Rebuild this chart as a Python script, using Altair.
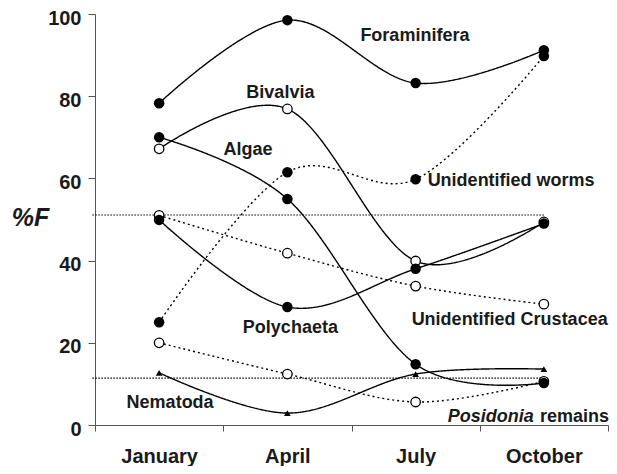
import altair as alt
import pandas as pd

months = ["January", "April", "July", "October"]

series_names = ["Foraminifera", "Unidentified worms", "Bivalvia", "Algae",
                "Polychaeta", "Unidentified Crustacea", "Posidonia remains", "Nematoda"]
foraminifera = [78.3, 98.5, 83.2, 91.2]
unidentified_worms = [25.0, 61.5, 59.8, 89.8]
bivalvia = [67.2, 76.9, 39.9, 49.4]
algae = [70.0, 55.0, 14.8, 10.2]
polychaeta = [49.9, 28.7, 38.0, 49.0]
unidentified_crustacea = [51.0, 41.8, 33.8, 29.4]
posidonia_remains = [20.0, 12.4, 5.6, 10.6]
nematoda = [12.7, 2.9, 12.4, 13.6]
series_values = [foraminifera, unidentified_worms, bivalvia, algae,
                 polychaeta, unidentified_crustacea, posidonia_remains, nematoda]
series_marker = ["filled", "filled", "open", "filled", "filled", "open", "open", "triangle"]
series_line = ["solid", "dotted", "solid", "solid", "solid", "dotted", "dotted", "solid"]

ref_values = [51.1, 11.4]
ref_months = ["October", "October"]

label_texts = ["Foraminifera", "Bivalvia", "Algae", "Unidentified worms", "Polychaeta",
               "Unidentified Crustacea", "Nematoda", "Posidonia", "remains"]
label_months = ["April", "April", "January", "July", "April", "July", "January", "October", "October"]
label_values = [94.6, 80.8, 66.9, 59.4, 23.6, 25.5, 5.4, 2.0, 2.0]
label_dx = [73, -7, 89, 12, 3, -4, 11, -10, -4]
label_align = ["left", "center", "center", "left", "center", "left", "center", "right", "left"]
label_style = ["normal", "normal", "normal", "normal", "normal", "normal", "normal", "italic", "normal"]

y_ticks = [0, 20, 40, 60, 80, 100]

rows = []
for name, vals, mk, ln in zip(series_names, series_values, series_marker, series_line):
    for m, v in zip(months, vals):
        rows.append({"series": name, "month": m, "value": v, "marker": mk, "line": ln})
df = pd.DataFrame(rows)
ref_df = pd.DataFrame({"month": ref_months, "value": ref_values})

FONT = "Liberation Sans"
INK = "#1a1a1a"

X = alt.X("month:N", sort=months,
          scale=alt.Scale(domain=months, paddingInner=0, paddingOuter=0),
          axis=alt.Axis(title=None, labelAngle=0, tickBand="extent", tickSize=6,
                        labelPadding=15, labelFontSize=20, labelFontWeight="bold",
                        labelFont=FONT, labelColor=INK, domainColor="#555",
                        tickColor="#555", grid=False))
Y = alt.Y("value:Q", scale=alt.Scale(domain=[0, 100], nice=False),
          axis=alt.Axis(values=y_ticks, title="%F", titleAngle=0, titleX=-65, titleY=203,
                        titleAlign="center", titleBaseline="middle", titleFontSize=25,
                        titleFontStyle="italic", titleFontWeight="bold", titleFont=FONT,
                        titleColor=INK, tickSize=7, labelPadding=7, labelOffset=4,
                        labelFontSize=20, labelFontWeight="bold", labelFont=FONT,
                        labelColor=INK, domainColor="#555", tickColor="#555", grid=False))

base = alt.Chart(df)

lines = base.mark_line(interpolate="cardinal", color="black", strokeWidth=1.4).encode(
    x=X, y=Y, detail="series:N",
    strokeDash=alt.StrokeDash("line:N", scale=alt.Scale(domain=["solid", "dotted"],
                                                        range=[[1, 0], [2, 3]]), legend=None))

refs = alt.Chart(ref_df).mark_rule(color="black", strokeWidth=1.2, strokeDash=[1.5, 1.5]).encode(
    x=X, x2=alt.value(-3), y=Y)

open_pts = base.transform_filter(alt.datum.marker == "open").mark_point(
    shape="circle", filled=True, fill="white", stroke="black", strokeWidth=1.3, size=90, opacity=1
).encode(x=X, y=Y)
filled_pts = base.transform_filter(alt.datum.marker == "filled").mark_point(
    shape="circle", filled=True, color="black", size=110, opacity=1
).encode(x=X, y=Y)
tri_pts = base.transform_filter(alt.datum.marker == "triangle").mark_point(
    shape="triangle-up", filled=True, color="black", size=45, opacity=1
).encode(x=X, y=Y)

label_layers = []
for t, m, v, dx, al, st in zip(label_texts, label_months, label_values, label_dx, label_align, label_style):
    ldf = pd.DataFrame({"month": [m], "value": [v], "text": [t]})
    label_layers.append(
        alt.Chart(ldf).mark_text(align=al, baseline="middle", dx=dx, fontSize=18,
                                 fontWeight="bold", fontStyle=st, font=FONT, color=INK)
        .encode(x=X, y=Y, text="text:N"))

chart = alt.layer(refs, lines, open_pts, filled_pts, tri_pts, *label_layers).properties(
    width=513, height=411,
    background="white",
    autosize=alt.AutoSizeParams(type="none"),
    padding={"left": 87, "top": 6, "right": 1, "bottom": 41},
).configure_view(stroke=None)

chart.save("out.html", embed_options={"renderer": "svg", "actions": False})
